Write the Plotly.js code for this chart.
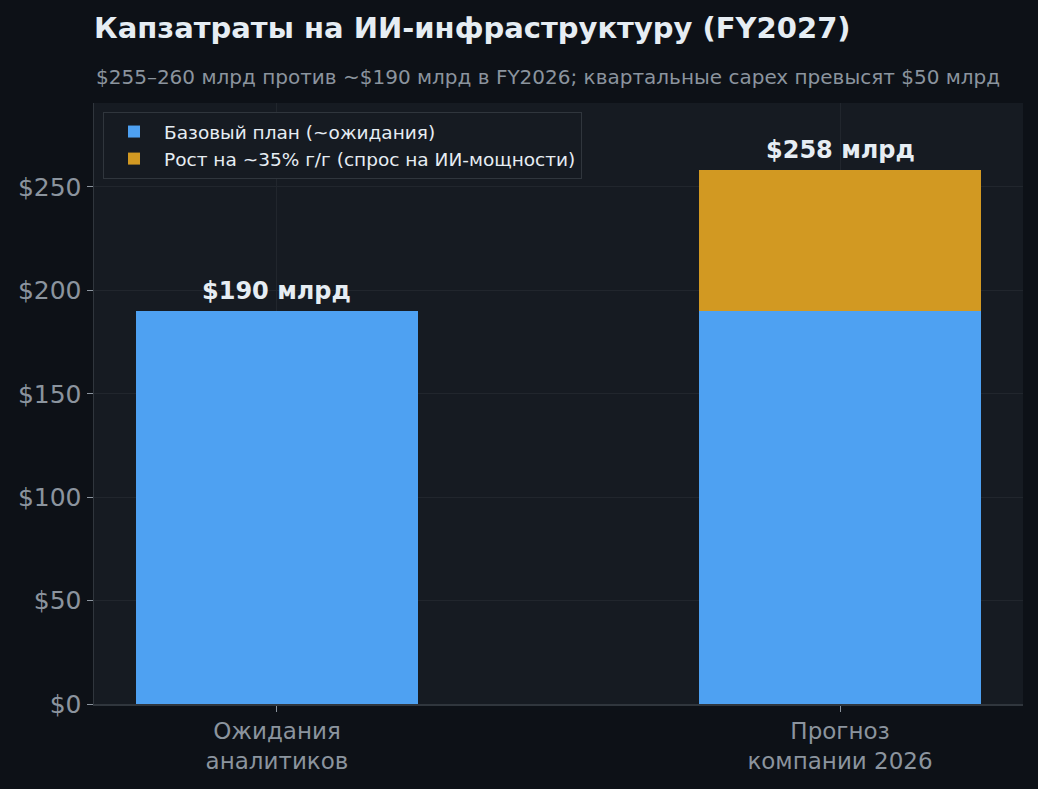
<!DOCTYPE html>
<html>
<head>
<meta charset="utf-8">
<script src="https://cdn.plot.ly/plotly-3.0.1.min.js"></script>
<style>
  html, body { margin: 0; padding: 0; background: #0d1117; }
  #chart { width: 1038px; height: 789px; }
</style>
</head>
<body>
<div id="chart"></div>
<script>
// data
const categories = ['Ожидания<br>аналитиков', 'Прогноз<br>компании 2026'];
const baseValues = [190, 190];
const growthValues = [null, 68];
const barLabels = ['$190 млрд', '$258 млрд'];
const yTicks = [0, 50, 100, 150, 200, 250];
const yTickText = ['$0', '$50', '$100', '$150', '$200', '$250'];

const font = 'DejaVu Sans, Noto Sans, sans-serif';

const traces = [
  {
    type: 'bar',
    name: 'Базовый план (~ожидания)',
    x: categories,
    y: baseValues,
    width: 0.5,
    marker: { color: '#4ea1f2' },
    hoverinfo: 'skip'
  },
  {
    type: 'bar',
    name: 'Рост на ~35% г/г (спрос на ИИ-мощности)',
    x: categories,
    y: growthValues,
    width: 0.5,
    marker: { color: '#d29922' },
    hoverinfo: 'skip'
  }
];

// totals on top of each bar
const labelAnn = categories.map((c, i) => ({
  x: c,
  y: baseValues[i] + (growthValues[i] || 0),
  text: barLabels[i],
  showarrow: false,
  yanchor: 'bottom',
  yshift: 4,
  font: { family: font, size: 24, color: '#e6edf3', weight: 'bold' }
}));

const layout = {
  width: 1038,
  height: 789,
  paper_bgcolor: '#0d1117',
  plot_bgcolor: '#161b22',
  barmode: 'stack',
  margin: { l: 94, r: 15, t: 103, b: 85 },
  showlegend: true,
  title: {
    text: 'Капзатраты на ИИ-инфраструктуру (FY2027)',
    font: { family: font, size: 29, color: '#e6edf3', weight: 'bold' },
    xref: 'paper', x: 0, xanchor: 'left',
    yref: 'container', y: 1 - 28 / 789, yanchor: 'middle'
  },
  legend: {
    x: 0.0097, y: 0.985, xanchor: 'left', yanchor: 'top',
    bgcolor: '#161b22',
    bordercolor: '#30363d',
    borderwidth: 1,
    font: { family: font, size: 18.5, color: '#e6edf3' },
    itemwidth: 50,
    traceorder: 'normal'
  },
  xaxis: {
    range: [-0.325, 1.325],
    showgrid: true,
    gridcolor: '#21262d',
    showline: true,
    linecolor: '#30363d',
    linewidth: 1.5,
    ticks: 'outside',
    ticklen: 6,
    tickcolor: '#8b949e',
    tickfont: { family: font, size: 23, color: '#8b949e' },
    zeroline: false,
    fixedrange: true
  },
  yaxis: {
    range: [0, 290.6],
    tickvals: yTicks,
    ticktext: yTickText,
    showgrid: true,
    gridcolor: '#21262d',
    showline: true,
    linecolor: '#30363d',
    linewidth: 1.5,
    ticks: 'outside',
    ticklen: 6,
    tickcolor: '#8b949e',
    tickfont: { family: font, size: 25, color: '#8b949e' },
    zeroline: false,
    fixedrange: true
  },
  annotations: [
    {
      xref: 'paper', yref: 'paper',
      x: 0, y: (704 - 77) / 601,
      xanchor: 'left', yanchor: 'middle',
      text: '$255–260 млрд против ~$190 млрд в FY2026; квартальные capex превысят $50 млрд',
      showarrow: false,
      font: { family: font, size: 20, color: '#8b949e' }
    }
  ].concat(labelAnn)
};

Plotly.newPlot('chart', traces, layout, { displayModeBar: false, staticPlot: true });
</script>
</body>
</html>
